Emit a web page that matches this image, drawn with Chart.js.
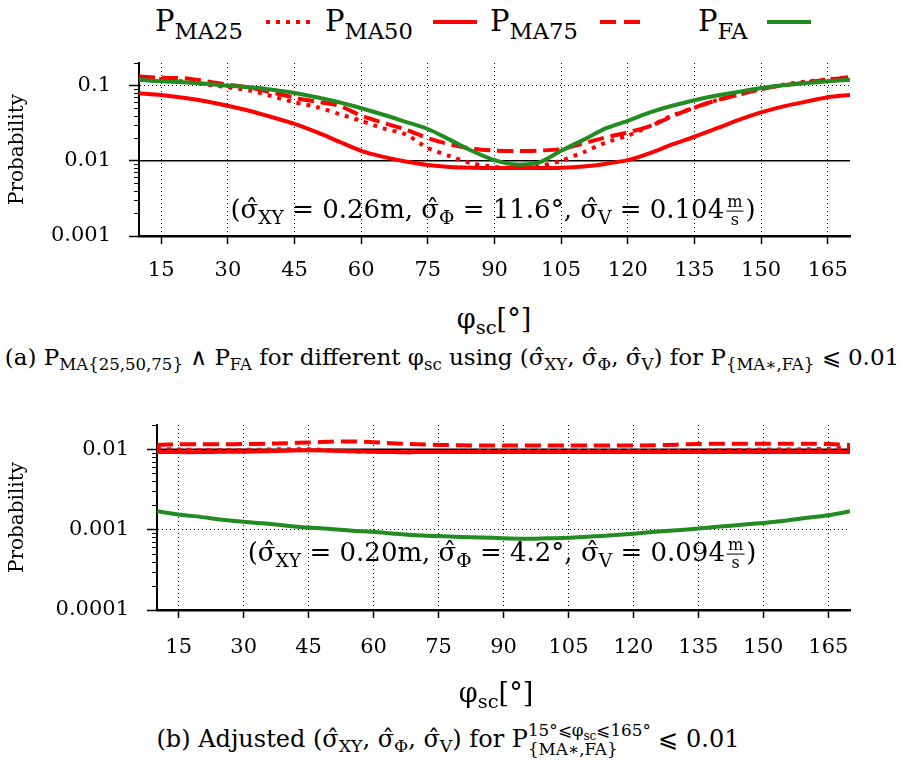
<!DOCTYPE html>
<html>
<head>
<meta charset="utf-8">
<script src="https://cdn.jsdelivr.net/npm/chart.js@4/dist/chart.umd.min.js"></script>
<style>
  html, body { margin: 0; padding: 0; background: #fff; }
  body { width: 905px; height: 762px; position: relative; overflow: hidden;
         font-family: "DejaVu Serif", serif; color: #000; }
  .panel { position: absolute; left: 0; width: 905px; height: 300px; }
  .txt { position: absolute; white-space: nowrap; line-height: 1; }
  .c { transform: translate(-50%, -50%); }
  sub { font-size: 0.72em; vertical-align: -0.32em; line-height: 0; }
  .lg sub { font-size: 0.78em; vertical-align: -0.36em; }
  .frac { display: inline-block; vertical-align: middle; text-align: center; font-size: 0.62em; line-height: 1.05; margin: 0 2px; }
  .frac span { display: block; padding: 0 1px; }
  .frac .num { border-bottom: 1px solid #000; }
  .stack { display: inline-block; vertical-align: middle; font-size: 0.7em; line-height: 1.15; text-align: left; }
  .stack span { display: block; }
  .legend-sample { position: absolute; }
</style>
</head>
<body>

<!-- legend -->
<div class="txt lg" style="left:155px;top:7px;font-size:29px;">P<sub>MA25</sub></div>
<svg class="legend-sample" style="left:266px;top:18px;" width="48" height="8"><line x1="0" y1="4" x2="48" y2="4" stroke="#ff0000" stroke-width="4" stroke-dasharray="4 6"/></svg>
<div class="txt lg" style="left:325px;top:7px;font-size:29px;">P<sub>MA50</sub></div>
<svg class="legend-sample" style="left:433px;top:18px;" width="44" height="8"><line x1="0" y1="4" x2="44" y2="4" stroke="#ff0000" stroke-width="4"/></svg>
<div class="txt lg" style="left:490px;top:7px;font-size:29px;">P<sub>MA75</sub></div>
<svg class="legend-sample" style="left:600px;top:18px;" width="42" height="8"><line x1="0" y1="4" x2="42" y2="4" stroke="#ff0000" stroke-width="4" stroke-dasharray="16 8"/></svg>
<div class="txt lg" style="left:698px;top:7px;font-size:29px;">P<sub>FA</sub></div>
<svg class="legend-sample" style="left:767px;top:18px;" width="44" height="8"><line x1="0" y1="4" x2="44" y2="4" stroke="#228b22" stroke-width="4"/></svg>

<div class="panel" style="top:0;"><canvas id="chartTop" width="905" height="300"></canvas></div>
<div class="panel" style="top:380px;"><canvas id="chartBottom" width="905" height="300"></canvas></div>

<!-- annotations inside the plots -->
<div class="txt c" style="left:493px;top:211px;font-size:26px;">(σ̂<sub>XY</sub> = 0.26m, σ̂<sub>Φ</sub> = 11.6°, σ̂<sub>V</sub> = 0.104<span class="frac"><span class="num">m</span><span>s</span></span>)</div>
<div class="txt c" style="left:502px;top:554px;font-size:26px;">(σ̂<sub>XY</sub> = 0.20m, σ̂<sub>Φ</sub> = 4.2°, σ̂<sub>V</sub> = 0.094<span class="frac"><span class="num">m</span><span>s</span></span>)</div>

<!-- axis titles -->
<div class="txt c" style="left:494px;top:318px;font-size:27px;">φ<sub>sc</sub>[°]</div>
<div class="txt c" style="left:496px;top:692px;font-size:27px;">φ<sub>sc</sub>[°]</div>

<!-- captions -->
<div class="txt c" style="left:452px;top:357px;font-size:23px;">(a) P<sub>MA{25,50,75}</sub> ∧ P<sub>FA</sub> for different φ<sub>sc</sub> using (σ̂<sub>XY</sub>, σ̂<sub>Φ</sub>, σ̂<sub>V</sub>) for P<sub>{MA∗,FA}</sub> ⩽ 0.01</div>
<div class="txt c" style="left:448px;top:740px;font-size:24px;">(b) Adjusted (σ̂<sub>XY</sub>, σ̂<sub>Φ</sub>, σ̂<sub>V</sub>) for P<span class="stack"><span>15°⩽φ<sub>sc</sub>⩽165°</span><span>{MA∗,FA}</span></span> ⩽ 0.01</div>

<script>
// Scan angle φsc in degrees (sample positions of every curve)
const PHI = [10, 15, 20, 25, 30, 35, 40, 45, 50, 55, 60, 65, 70, 75, 80, 85, 90,
             95, 100, 105, 110, 115, 120, 125, 130, 135, 140, 145, 150, 155, 160, 165, 170];

// (a) fixed sigmas
const TOP_MA25 = [0.130, 0.122, 0.113, 0.104, 0.095, 0.086, 0.072, 0.060, 0.052, 0.042, 0.034,
                  0.027, 0.0225, 0.0148, 0.0115, 0.0092, 0.0083, 0.0080, 0.0085, 0.0100, 0.0130,
                  0.0175, 0.0216, 0.029, 0.040, 0.051, 0.064, 0.076, 0.090, 0.103, 0.113, 0.121, 0.130];
const TOP_MA50 = [0.079, 0.075, 0.069, 0.062, 0.054, 0.046, 0.038, 0.031, 0.024, 0.018, 0.0136,
                  0.0113, 0.0098, 0.0088, 0.0083, 0.0081, 0.0080, 0.0080, 0.0080, 0.0081, 0.0084,
                  0.0091, 0.0102, 0.0127, 0.0165, 0.0209, 0.027, 0.035, 0.044, 0.053, 0.061, 0.070, 0.075];
const TOP_MA75 = [0.132, 0.127, 0.126, 0.115, 0.103, 0.094, 0.081, 0.069, 0.061, 0.054, 0.040,
                  0.032, 0.026, 0.020, 0.0165, 0.0145, 0.0137, 0.0135, 0.0137, 0.0143, 0.0170,
                  0.0205, 0.0239, 0.029, 0.039, 0.051, 0.064, 0.076, 0.090, 0.101, 0.110, 0.120, 0.130];
const TOP_FA   = [0.120, 0.114, 0.111, 0.106, 0.100, 0.095, 0.088, 0.080, 0.070, 0.060, 0.050,
                  0.041, 0.033, 0.0265, 0.019, 0.0135, 0.0102, 0.0089, 0.0095, 0.0136, 0.019,
                  0.027, 0.034, 0.044, 0.054, 0.064, 0.074, 0.083, 0.093, 0.101, 0.108, 0.114, 0.120];

// (b) adjusted sigmas
const BOT_MA25 = [0.0101, 0.0099, 0.0098, 0.0098, 0.0098, 0.0099, 0.0100, 0.0100, 0.0097, 0.0094, 0.0093,
                  0.0092, 0.0092, 0.0093, 0.0094, 0.0095, 0.0095, 0.0095, 0.0095, 0.0095, 0.0095,
                  0.0095, 0.0095, 0.0095, 0.0095, 0.0096, 0.0097, 0.0098, 0.0099, 0.0099, 0.0100, 0.0101, 0.0105];
const BOT_MA50 = [0.0092, 0.0092, 0.0092, 0.0093, 0.0093, 0.0094, 0.0096, 0.0097, 0.0096, 0.0094, 0.0093,
                  0.0092, 0.0092, 0.0092, 0.0092, 0.0092, 0.0092, 0.0092, 0.0092, 0.0092, 0.0092,
                  0.0092, 0.0092, 0.0092, 0.0092, 0.0092, 0.0092, 0.0092, 0.0092, 0.0092, 0.0092, 0.0092, 0.0092];
const BOT_MA75 = [0.0113, 0.0115, 0.0115, 0.0115, 0.0116, 0.0117, 0.0119, 0.0121, 0.0124, 0.0125, 0.0122,
                  0.0118, 0.0115, 0.0113, 0.0112, 0.0111, 0.0111, 0.0111, 0.0111, 0.0111, 0.0111,
                  0.0111, 0.0111, 0.0112, 0.0114, 0.0116, 0.0117, 0.0117, 0.0117, 0.0117, 0.0117, 0.0116, 0.0113];
const BOT_FA   = [0.00169, 0.00154, 0.00144, 0.00133, 0.00125, 0.00119, 0.00112, 0.00106, 0.00102, 0.00097, 0.00094,
                  0.00089, 0.00085, 0.00083, 0.00081, 0.00080, 0.00078, 0.00077, 0.00078, 0.00079, 0.00082,
                  0.00085, 0.00089, 0.00094, 0.00098, 0.00103, 0.00109, 0.00115, 0.00121, 0.00129, 0.00140, 0.00151, 0.00169];

// Axes
const X_MIN = 10, X_MAX = 170;
const X_TICKS = [15, 30, 45, 60, 75, 90, 105, 120, 135, 150, 165];
const Y_TICKS_TOP = [0.001, 0.01, 0.1];
const Y_TICKS_BOTTOM = [0.0001, 0.001, 0.01];
const Y_MAX_TOP = 0.2, Y_MAX_BOTTOM = 0.02;
const THRESHOLD = 0.01;

const RED = '#ff0000';
const GREEN = '#228b22';
const FONT = '"DejaVu Serif", serif';

function isDecade(v) {
  const l = Math.log10(v);
  return Math.abs(l - Math.round(l)) < 1e-6;
}

// log ticks: decades plus the 2..9 multiples up to the axis maximum
function logTicks(decades, max) {
  const out = [];
  decades.forEach(d => {
    out.push(d);
    for (let k = 2; k <= 9; k++) {
      const v = +(d * k).toPrecision(6);
      if (v <= max * 1.0001) out.push(v);
    }
  });
  if (!out.includes(max)) out.push(max);
  return [...new Set(out)].sort((a, b) => a - b);
}

// short outward marks for the minor log ticks
const minorTicks = {
  id: 'minorTicks',
  afterDraw(chart) {
    const y = chart.scales.y, ctx = chart.ctx;
    ctx.save();
    ctx.strokeStyle = '#000';
    ctx.lineWidth = 1;
    y.ticks.forEach(t => {
      if (isDecade(t.value)) return;
      const py = Math.round(y.getPixelForValue(t.value)) + 0.5;
      ctx.beginPath();
      ctx.moveTo(y.right - 5, py);
      ctx.lineTo(y.right, py);
      ctx.stroke();
    });
    ctx.restore();
  }
};

function series(values) {
  return PHI.map((x, i) => ({ x, y: values[i] }));
}

function makeChart(id, d, cfg) {
  const datasets = [
    { label: 'P_FA',   data: series(d.fa),   borderColor: GREEN, borderWidth: 4, order: 0 },
    { label: 'P_MA25', data: series(d.ma25), borderColor: RED, borderWidth: 4, borderDash: [4, 6], order: 1 },
    { label: 'P_MA75', data: series(d.ma75), borderColor: RED, borderWidth: 4, borderDash: [16, 7], order: 2 },
    { label: 'P_MA50', data: series(d.ma50), borderColor: RED, borderWidth: 4, order: 3 },
    { label: 'threshold', data: [{ x: X_MIN, y: THRESHOLD }, { x: X_MAX, y: THRESHOLD }],
      borderColor: '#000', borderWidth: 1.5, order: 9 }
  ];
  datasets.forEach(ds => { ds.pointRadius = 0; ds.fill = false; ds.tension = 0.25; ds.borderCapStyle = 'butt'; });

  return new Chart(document.getElementById(id), {
    type: 'line',
    data: { datasets },
    options: {
      responsive: false,
      animation: false,
      events: [],
      layout: { padding: { top: cfg.padTop, right: 55, bottom: 0, left: 0 } },
      plugins: { legend: { display: false }, tooltip: { enabled: false } },
      scales: {
        x: {
          type: 'linear', min: X_MIN, max: X_MAX,
          afterBuildTicks(scale) { scale.ticks = X_TICKS.map(v => ({ value: v })); },
          afterFit(scale) { scale.height = cfg.xHeight; },
          ticks: { autoSkip: false, maxRotation: 0, padding: cfg.xPad, color: '#000',
                   font: { family: FONT, size: 21 } },
          grid: { color: '#000', lineWidth: 1, drawTicks: true, tickLength: 8,
                  tickColor: '#000', tickWidth: 1.5 },
          border: { color: '#000', width: 2.5, dash: [1, 3] }
        },
        y: {
          type: 'logarithmic', min: cfg.yTicks[0], max: cfg.yMax,
          afterBuildTicks(scale) { scale.ticks = logTicks(cfg.yTicks, cfg.yMax).map(v => ({ value: v })); },
          afterFit(scale) { scale.width = cfg.yWidth; },
          ticks: { autoSkip: false, padding: 18, color: '#000', font: { family: FONT, size: 21 },
                   callback: v => (cfg.yTicks.includes(v) ? String(v) : '') },
          grid: {
            color: c => (c.tick && isDecade(c.tick.value) ? '#000' : 'rgba(0,0,0,0)'),
            lineWidth: 1, tickLength: 10,
            tickColor: c => (c.tick && isDecade(c.tick.value) ? '#000' : 'rgba(0,0,0,0)'),
            tickWidth: 1.5
          },
          border: { color: '#000', width: 2, dash: [1, 3] },
          title: { display: true, text: 'Probability', color: '#000',
                   font: { family: FONT, size: 20 }, padding: { top: 6, bottom: 0 } }
        }
      }
    },
    plugins: [minorTicks]
  });
}

makeChart('chartTop',
  { ma25: TOP_MA25, ma50: TOP_MA50, ma75: TOP_MA75, fa: TOP_FA },
  { padTop: 63, xHeight: 64, xPad: 14, yWidth: 139, yTicks: Y_TICKS_TOP, yMax: Y_MAX_TOP });

makeChart('chartBottom',
  { ma25: BOT_MA25, ma50: BOT_MA50, ma75: BOT_MA75, fa: BOT_FA },
  { padTop: 45, xHeight: 70, xPad: 17, yWidth: 157, yTicks: Y_TICKS_BOTTOM, yMax: Y_MAX_BOTTOM });
</script>
</body>
</html>
